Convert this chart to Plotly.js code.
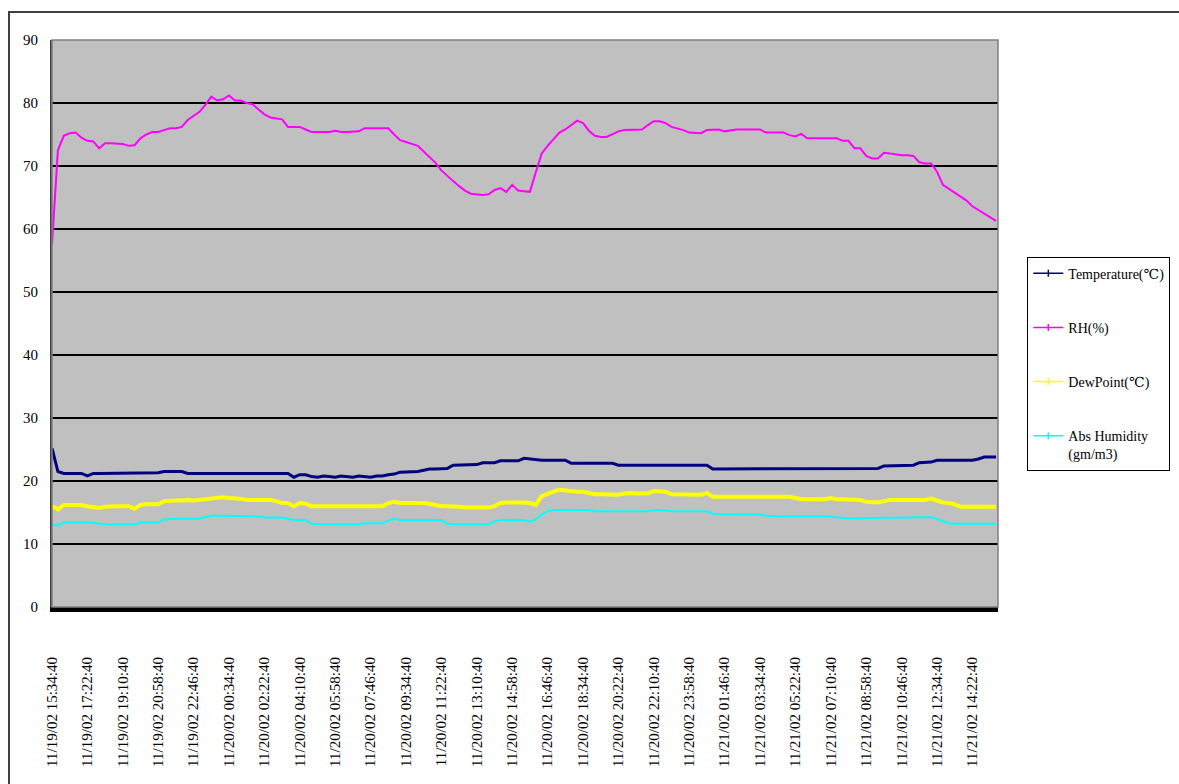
<!DOCTYPE html>
<html>
<head>
<meta charset="utf-8">
<script src="https://cdn.plot.ly/plotly-3.0.1.min.js"></script>
<style>
  html, body { margin: 0; padding: 0; background: #ffffff; overflow: hidden; }
  #wrap { position: relative; width: 1179px; height: 784px; overflow: hidden; }
  #frame { position: absolute; left: 8px; top: 11px; width: 1300px; height: 900px;
           border-left: 2px solid #404040; border-top: 2px solid #404040; }
  #chart { position: absolute; left: 0; top: 0; width: 1179px; height: 784px; }
</style>
</head>
<body>
<div id="wrap">
  <div id="frame"></div>
  <div id="chart"></div>
</div>
<script>
// Logger readings, one sample every 18 minutes starting 11/19/02 15:34:40
const SAMPLE_STEP_MIN = 18;

const temperature = [25.2,21.5,21.2,21.2,21.2,21.2,20.8,21.2,21.2,21.2,
  21.2,21.2,21.2,21.2,21.2,21.2,21.2,21.2,21.3,21.5,
  21.5,21.5,21.5,21.2,21.2,21.2,21.2,21.2,21.2,21.2,
  21.2,21.2,21.2,21.2,21.2,21.2,21.2,21.2,21.2,21.2,
  21.2,20.6,21.0,21.0,20.7,20.6,20.8,20.7,20.6,20.8,
  20.7,20.6,20.8,20.7,20.6,20.8,20.8,21.0,21.1,21.4,
  21.4,21.4,21.5,21.7,21.9,21.9,21.9,22.0,22.5,22.5,
  22.5,22.5,22.6,22.9,22.9,22.9,23.2,23.2,23.2,23.2,
  23.6,23.5,23.3,23.3,23.3,23.3,23.3,23.3,22.8,22.8,
  22.8,22.8,22.8,22.8,22.8,22.8,22.5,22.5,22.5,22.5,
  22.5,22.5,22.5,22.5,22.5,22.5,22.5,22.5,22.5,22.5,
  22.5,22.5,21.9,21.9,21.9,21.9,21.9,21.9,21.9,21.9,
  21.9,21.9,21.9,21.9,21.9,21.9,21.9,21.9,21.9,21.9,
  21.9,21.9,21.9,21.9,21.9,21.9,21.9,21.9,21.9,21.9,
  22.0,22.4,22.4,22.4,22.4,22.4,22.5,22.9,22.9,23.0,
  23.3,23.3,23.3,23.3,23.3,23.3,23.3,23.5,23.8,23.8,
  23.8];

const relHumidity = [57.5,72.5,74.8,75.2,75.3,74.5,74.0,73.9,72.8,73.6,
  73.6,73.6,73.5,73.2,73.3,74.4,75.0,75.4,75.4,75.7,
  76.0,76.0,76.2,77.3,77.9,78.6,79.7,81.0,80.4,80.6,
  81.2,80.4,80.4,80.0,79.8,79.0,78.2,77.7,77.6,77.4,
  76.2,76.2,76.2,75.8,75.4,75.4,75.4,75.4,75.6,75.4,
  75.4,75.4,75.5,76.0,76.0,76.0,76.0,76.0,75.0,74.1,
  73.8,73.5,73.2,72.3,71.4,70.5,69.3,68.4,67.6,66.8,
  66.1,65.6,65.5,65.4,65.5,66.2,66.5,65.9,67.0,66.1,
  66.0,65.9,69.0,72.0,73.2,74.3,75.3,75.8,76.5,77.2,
  76.8,75.6,74.8,74.6,74.6,75.1,75.5,75.7,75.7,75.7,
  75.8,76.5,77.1,77.1,76.8,76.2,76.0,75.7,75.3,75.2,
  75.2,75.7,75.8,75.8,75.5,75.7,75.8,75.8,75.8,75.8,
  75.8,75.3,75.3,75.3,75.3,74.9,74.7,75.1,74.4,74.4,
  74.4,74.4,74.4,74.4,74.0,74.0,72.8,72.8,71.6,71.2,
  71.2,72.1,72.0,71.8,71.7,71.7,71.6,70.6,70.4,70.4,
  69.1,67.0,66.4,65.8,65.1,64.5,63.6,63.0,62.4,61.8,
  61.3];

const dewPoint = [16.0,15.5,16.2,16.2,16.2,16.2,16.0,15.9,15.7,15.9,
  16.0,16.0,16.0,16.0,15.6,16.2,16.3,16.3,16.3,16.8,
  16.9,16.9,16.9,17.0,16.9,17.0,17.2,17.3,17.3,17.4,
  17.3,17.3,17.2,17.0,17.0,17.0,17.0,17.0,16.8,16.5,
  16.5,16.0,16.5,16.4,16.0,16.0,16.0,16.0,16.0,16.0,
  16.0,16.0,16.0,16.0,16.0,16.0,16.0,16.5,16.7,16.5,
  16.5,16.5,16.6,16.5,16.4,16.2,16.0,16.0,16.0,15.9,
  15.8,15.8,15.8,15.8,15.8,16.0,16.5,16.6,16.6,16.7,
  16.6,16.5,16.2,17.6,18.0,18.3,18.6,18.5,18.3,18.3,
  18.3,18.1,17.9,17.9,17.9,17.9,17.8,18.0,18.1,18.0,
  18.0,18.0,18.4,18.4,18.3,17.9,17.9,17.9,17.9,17.8,
  17.8,18.1,17.5,17.5,17.5,17.5,17.5,17.5,17.5,17.5,
  17.5,17.5,17.5,17.5,17.5,17.5,17.3,17.1,17.1,17.1,
  17.1,17.1,17.3,17.1,17.1,17.1,17.1,17.0,16.7,16.6,
  16.6,16.8,17.0,17.0,17.0,17.0,17.0,17.0,17.0,17.2,
  16.9,16.6,16.5,16.3,15.9,15.9,16.0,15.9,15.9,15.9,
  15.9];

const absHumidity = [13.1,12.9,13.4,13.4,13.4,13.4,13.4,13.4,13.2,13.1,
  13.1,13.1,13.1,13.1,13.1,13.4,13.4,13.4,13.4,13.9,
  14.0,14.0,14.0,14.0,14.0,14.0,14.3,14.5,14.5,14.5,
  14.5,14.4,14.4,14.4,14.4,14.4,14.2,14.2,14.2,14.2,
  14.0,13.8,13.8,13.8,13.2,13.1,13.1,13.1,13.1,13.1,
  13.1,13.1,13.1,13.3,13.3,13.3,13.3,13.7,14.0,13.8,
  13.8,13.8,13.9,13.8,13.8,13.8,13.8,13.2,13.1,13.1,
  13.1,13.1,13.1,13.1,13.1,13.6,13.8,13.8,13.8,13.8,
  13.8,13.5,13.9,14.7,15.2,15.4,15.4,15.4,15.4,15.4,
  15.4,15.4,15.2,15.2,15.2,15.2,15.2,15.2,15.2,15.2,
  15.2,15.2,15.4,15.4,15.3,15.2,15.2,15.2,15.2,15.2,
  15.2,15.2,14.8,14.7,14.7,14.7,14.7,14.7,14.7,14.7,
  14.7,14.5,14.4,14.4,14.4,14.4,14.4,14.4,14.4,14.4,
  14.4,14.4,14.4,14.2,14.1,14.1,14.1,14.1,14.1,14.2,
  14.2,14.2,14.2,14.2,14.2,14.2,14.3,14.2,14.2,14.3,
  14.0,13.6,13.3,13.2,13.2,13.2,13.2,13.2,13.2,13.2,
  13.2];

// Category labels, one every 108 minutes
const TICK_STEP_MIN = 108;
const tickLabels = [
  "11/19/02 15:34:40","11/19/02 17:22:40","11/19/02 19:10:40","11/19/02 20:58:40",
  "11/19/02 22:46:40","11/20/02 00:34:40","11/20/02 02:22:40","11/20/02 04:10:40",
  "11/20/02 05:58:40","11/20/02 07:46:40","11/20/02 09:34:40","11/20/02 11:22:40",
  "11/20/02 13:10:40","11/20/02 14:58:40","11/20/02 16:46:40","11/20/02 18:34:40",
  "11/20/02 20:22:40","11/20/02 22:10:40","11/20/02 23:58:40","11/21/02 01:46:40",
  "11/21/02 03:34:40","11/21/02 05:22:40","11/21/02 07:10:40","11/21/02 08:58:40",
  "11/21/02 10:46:40","11/21/02 12:34:40","11/21/02 14:22:40"
];

const seriesNames = ["Temperature(\u2103)", "RH(%)", "DewPoint(\u2103)", "Abs Humidity<br>(gm/m3)"];
const seriesColors = ["#000080", "#FF00FF", "#FFFF00", "#00FFFF"];

const minutes = temperature.map((_, i) => i * SAMPLE_STEP_MIN);
const tickVals = tickLabels.map((_, k) => k * TICK_STEP_MIN);

const values = [temperature, relHumidity, dewPoint, absHumidity];
const widths = [3, 2, 4, 2];

// Plotted series (legend entries are drawn separately with thin keys)
const traces = values.map((v, s) => ({
  type: "scatter",
  mode: "lines",
  x: minutes,
  y: v,
  name: seriesNames[s],
  showlegend: false,
  line: { color: seriesColors[s], width: widths[s] },
  hoverinfo: "x+y"
}));

// Legend keys: thin line with a small tick marker
const legendKeys = seriesNames.map((n, s) => ({
  type: "scatter",
  mode: "lines+markers",
  x: [null],
  y: [null],
  name: n,
  legendgroup: "g" + s,
  line: { color: seriesColors[s], width: 1.5 },
  marker: { symbol: "line-ns", size: 5, line: { color: seriesColors[s], width: 1.5 } }
}));

const font = { family: "Liberation Serif, DejaVu Serif, serif", size: 14, color: "#000000" };

const layout = {
  width: 1179,
  height: 784,
  margin: { l: 52, r: 181, t: 40, b: 177, pad: 0, autoexpand: false },
  paper_bgcolor: "rgba(0,0,0,0)",
  plot_bgcolor: "#C0C0C0",
  font: font,
  showlegend: true,
  legend: {
    x: 1.031, xanchor: "left",
    y: 0.618, yanchor: "top",
    bgcolor: "#ffffff",
    bordercolor: "#000000",
    borderwidth: 1,
    font: font,
    traceorder: "grouped",
    tracegroupgap: 33,
    valign: "top",
    itemwidth: 30
  },
  xaxis: {
    range: [0, 2886],
    tickmode: "array",
    tickvals: tickVals,
    ticktext: tickLabels,
    tickangle: -90,
    ticklabelstandoff: 39,
    showgrid: false,
    zeroline: false,
    showline: true,
    linecolor: "#000000",
    linewidth: 5,
    ticks: "",
    automargin: false,
    tickfont: { family: font.family, size: 15, color: "#000000" }
  },
  yaxis: {
    range: [0, 90],
    dtick: 10,
    tick0: 0,
    showgrid: true,
    gridcolor: "#000000",
    gridwidth: 1.5,
    zeroline: false,
    showline: true,
    linecolor: "#404040",
    linewidth: 2,
    ticks: "",
    ticklabelstandoff: 9,
    automargin: false,
    tickfont: { family: font.family, size: 15, color: "#000000" }
  },
  shapes: [
    // plot area frame
    { type: "rect", xref: "paper", yref: "paper", x0: 0, x1: 1, y0: 0, y1: 1,
      line: { color: "#808080", width: 1.5 }, fillcolor: "rgba(0,0,0,0)", layer: "above" }
  ]
};

Plotly.newPlot("chart", traces.concat(legendKeys), layout, { displayModeBar: false, staticPlot: true });
</script>
</body>
</html>
